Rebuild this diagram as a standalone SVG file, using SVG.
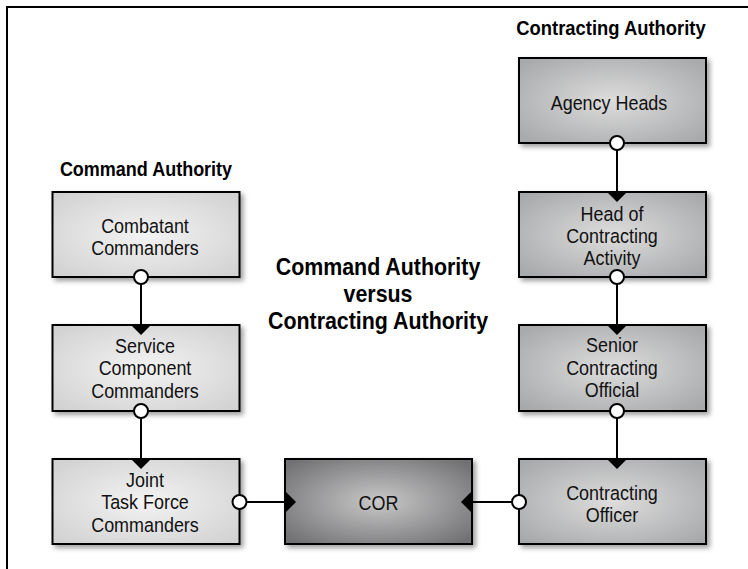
<svg xmlns="http://www.w3.org/2000/svg" width="748" height="569" viewBox="0 0 748 569">
  <style>
    .box { stroke: #000; stroke-width: 2; filter: url(#shadow); }
    .lt { fill: url(#gLight); }
    .md { fill: url(#gMid); }
    .dk { fill: url(#gDark); }
    .lbl { font-family: "Liberation Sans", Arial, Helvetica, sans-serif; font-size: 20.5px; fill: #111; text-anchor: middle; }
    .hdr { font-family: "Liberation Sans", Arial, Helvetica, sans-serif; font-size: 20px; font-weight: bold; fill: #000; text-anchor: middle; }
    .ttl { font-family: "Liberation Sans", Arial, Helvetica, sans-serif; font-size: 23.5px; font-weight: bold; fill: #000; text-anchor: middle; }
    .wire { stroke: #000; stroke-width: 2; fill: none; }
    .dot { fill: #fff; stroke: #000; stroke-width: 2; }
    .tip { fill: #000; }
  </style>
  <defs>
    <radialGradient id="gLight" cx="50%" cy="50%" r="65%">
      <stop offset="0" stop-color="#f3f3f3"/>
      <stop offset="1" stop-color="#d2d2d3"/>
    </radialGradient>
    <radialGradient id="gMid" cx="50%" cy="50%" r="65%">
      <stop offset="0" stop-color="#dddddd"/>
      <stop offset="1" stop-color="#a8a9ab"/>
    </radialGradient>
    <radialGradient id="gDark" cx="50%" cy="50%" r="65%">
      <stop offset="0" stop-color="#c8c8c9"/>
      <stop offset="1" stop-color="#717173"/>
    </radialGradient>
    <filter id="shadow" x="-10%" y="-10%" width="125%" height="130%">
      <feDropShadow dx="3" dy="3" stdDeviation="2.5" flood-color="#000" flood-opacity="0.38"/>
    </filter>
  </defs>

  <rect width="748" height="569" fill="#fff"/>

  <!-- outer frame (top and left edges visible) -->
  <path d="M7,569 V7 H748" fill="none" stroke="#000" stroke-width="2"/>

  <!-- headings -->
  <g id="headings">
    <g transform="translate(146,0) scale(0.9,1)"><text class="hdr" x="0" y="176">Command Authority</text></g>
    <g transform="translate(611,0) scale(0.92,1)"><text class="hdr" x="0" y="35">Contracting Authority</text></g>
    <g transform="translate(378,0) scale(0.91,1)">
      <text class="ttl" x="0" y="275">Command Authority</text>
      <text class="ttl" x="0" y="302">versus</text>
      <text class="ttl" x="0" y="329">Contracting Authority</text>
    </g>
  </g>

  <!-- command chain -->
  <g id="combatant-commanders">
    <rect class="box lt" x="52.5" y="192" width="187" height="85"/>
    <g transform="translate(145,0) scale(0.875,1)">
      <text class="lbl" x="0" y="233">Combatant</text>
      <text class="lbl" x="0" y="255">Commanders</text>
    </g>
  </g>
  <g id="service-component-commanders">
    <rect class="box lt" x="52.5" y="325" width="187" height="86"/>
    <g transform="translate(145,0) scale(0.875,1)">
      <text class="lbl" x="0" y="353">Service</text>
      <text class="lbl" x="0" y="375.5">Component</text>
      <text class="lbl" x="0" y="398">Commanders</text>
    </g>
  </g>
  <g id="joint-task-force-commanders">
    <rect class="box lt" x="52.5" y="459" width="187" height="85"/>
    <g transform="translate(145,0) scale(0.875,1)">
      <text class="lbl" x="0" y="487">Joint</text>
      <text class="lbl" x="0" y="509.5">Task Force</text>
      <text class="lbl" x="0" y="532">Commanders</text>
    </g>
  </g>

  <!-- COR -->
  <g id="cor">
    <rect class="box dk" x="285" y="459" width="187" height="85"/>
    <g transform="translate(378.5,0) scale(0.875,1)">
      <text class="lbl" x="0" y="510">COR</text>
    </g>
  </g>

  <!-- contracting chain -->
  <g id="agency-heads">
    <rect class="box md" x="519" y="58" width="187" height="85"/>
    <g transform="translate(609,0) scale(0.875,1)">
      <text class="lbl" x="0" y="110">Agency Heads</text>
    </g>
  </g>
  <g id="head-of-contracting-activity">
    <rect class="box md" x="519" y="192" width="187" height="85"/>
    <g transform="translate(612,0) scale(0.875,1)">
      <text class="lbl" x="0" y="221">Head of</text>
      <text class="lbl" x="0" y="243">Contracting</text>
      <text class="lbl" x="0" y="265">Activity</text>
    </g>
  </g>
  <g id="senior-contracting-official">
    <rect class="box md" x="519" y="325" width="187" height="86"/>
    <g transform="translate(612,0) scale(0.875,1)">
      <text class="lbl" x="0" y="352.5">Senior</text>
      <text class="lbl" x="0" y="375">Contracting</text>
      <text class="lbl" x="0" y="397.5">Official</text>
    </g>
  </g>
  <g id="contracting-officer">
    <rect class="box md" x="519" y="459" width="187" height="85"/>
    <g transform="translate(612,0) scale(0.875,1)">
      <text class="lbl" x="0" y="500">Contracting</text>
      <text class="lbl" x="0" y="522">Officer</text>
    </g>
  </g>

  <!-- connectors: open circle at the source, filled arrowhead at the target -->
  <g id="connectors">
    <!-- Combatant -> Service Component -->
    <line class="wire" x1="141" y1="277" x2="141" y2="326"/>
    <circle class="dot" cx="141" cy="277" r="7"/>
    <path class="tip" d="M131,325 H151 L141,335 Z"/>
    <!-- Service Component -> Joint Task Force -->
    <line class="wire" x1="141" y1="411" x2="141" y2="460"/>
    <circle class="dot" cx="141" cy="411" r="7"/>
    <path class="tip" d="M131,459 H151 L141,469 Z"/>
    <!-- Agency Heads -> Head of Contracting Activity -->
    <line class="wire" x1="617" y1="143" x2="617" y2="193"/>
    <circle class="dot" cx="617" cy="143" r="7"/>
    <path class="tip" d="M607,192 H627 L617,202 Z"/>
    <!-- Head of Contracting Activity -> Senior Contracting Official -->
    <line class="wire" x1="617" y1="277" x2="617" y2="326"/>
    <circle class="dot" cx="617" cy="277" r="7"/>
    <path class="tip" d="M607,325 H627 L617,335 Z"/>
    <!-- Senior Contracting Official -> Contracting Officer -->
    <line class="wire" x1="617" y1="411" x2="617" y2="460"/>
    <circle class="dot" cx="617" cy="411" r="7"/>
    <path class="tip" d="M607,459 H627 L617,469 Z"/>
    <!-- Joint Task Force -> COR -->
    <line class="wire" x1="239.5" y1="502" x2="286" y2="502"/>
    <circle class="dot" cx="239.5" cy="502" r="7"/>
    <path class="tip" d="M285,491 V513 L296,502 Z"/>
    <!-- Contracting Officer -> COR -->
    <line class="wire" x1="519" y1="502" x2="471" y2="502"/>
    <circle class="dot" cx="519" cy="502" r="7"/>
    <path class="tip" d="M472,491 V513 L461,502 Z"/>
  </g>
</svg>
